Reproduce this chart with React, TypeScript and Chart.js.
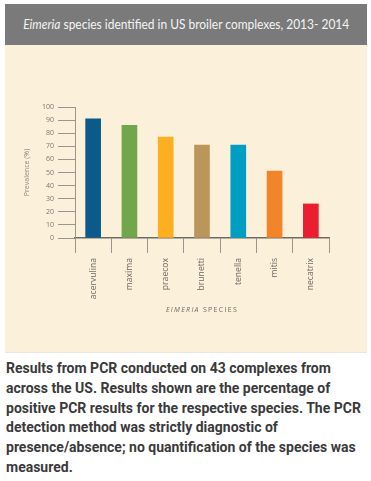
import React, { useEffect, useRef } from "react";
import { Chart, registerables } from "chart.js";

Chart.register(...registerables);

const species = ["acervulina", "maxima", "praecox", "brunetti", "tenella", "mitis", "necatrix"];
const prevalence = [91, 86, 77, 71, 71, 51, 26];
const barColors = ["#0b5a8a", "#71a64d", "#fcb021", "#b9975a", "#019ec3", "#f4842a", "#e91e2e"];
const yTicks = [0, 10, 20, 30, 40, 50, 60, 70, 80, 90, 100];

const titleItalic = "Eimeria";
const titleRest = " species identified in US broiler complexes, 2013- 2014";
const yTitle = "Prevalence (%)";
const xTitleItalic = "EIMERIA";
const xTitleRest = " SPECIES";
const captionLines = [
  "Results from PCR conducted on 43 complexes from",
  "across the US. Results shown are the percentage of",
  "positive PCR results for the respective species. The PCR",
  "detection method was strictly diagnostic of",
  "presence/absence; no quantification of the species was",
  "measured.",
];

const CW = 362;
const CH = 307;

const xTitlePlugin = {
  id: "xTitlePlugin",
  afterDraw(chart: any) {
    const { ctx, chartArea } = chart;
    ctx.save();
    ctx.fillStyle = "#6d6a66";
    ctx.textBaseline = "middle";
    (ctx as any).letterSpacing = "1.3px";
    ctx.font = "italic 7px 'Open Sans'";
    const w1 = ctx.measureText(xTitleItalic).width;
    ctx.font = "7px 'Open Sans'";
    const w2 = ctx.measureText(xTitleRest).width;
    const cx = (chartArea.left + chartArea.right) / 2;
    let x = cx - (w1 + w2) / 2;
    const y = 265;
    ctx.textAlign = "left";
    ctx.font = "italic 7px 'Open Sans'";
    ctx.fillText(xTitleItalic, x, y);
    ctx.font = "7px 'Open Sans'";
    ctx.fillText(xTitleRest, x + w1, y);
    ctx.restore();
  },
};

function BarChart() {
  const ref = useRef<HTMLCanvasElement>(null);
  useEffect(() => {
    if (!ref.current) return;
    const chart = new Chart(ref.current, {
      type: "bar",
      data: {
        labels: species,
        datasets: [
          {
            data: prevalence,
            backgroundColor: barColors,
            borderWidth: 0,
            barThickness: 15,
          },
        ],
      },
      options: {
        responsive: false,
        maintainAspectRatio: false,
        animation: false,
        layout: { padding: { left: 0, top: 62, right: 38, bottom: 0 } },
        plugins: { legend: { display: false }, tooltip: { enabled: false } },
        scales: {
          x: {
            grid: {
              offset: true,
              drawOnChartArea: false,
              tickLength: 15,
              color: "#9a968f",
              lineWidth: 1,
            },
            border: { color: "#6f6b64", width: 1.5 },
            ticks: {
              minRotation: 90,
              maxRotation: 90,
              padding: 5,
              color: "#6a6662",
              font: { family: "'Open Sans'", size: 8.6 },
            },
            afterFit: (s: any) => {
              s.height = 114;
            },
          },
          y: {
            min: 0,
            max: 100,
            afterBuildTicks: (s: any) => {
              s.ticks = yTicks.map((v) => ({ value: v }));
            },
            ticks: {
              padding: 4,
              color: "#7a7672",
              font: { family: "'Open Sans'", size: 7 },
            },
            grid: {
              drawOnChartArea: false,
              tickLength: 17,
              color: "#9a968f",
            },
            border: { color: "#9a968f", width: 1 },
            title: {
              display: true,
              text: yTitle,
              color: "#8a8682",
              font: { family: "'Open Sans'", size: 7 },
              padding: { top: 18, bottom: 0 },
            },
            afterFit: (s: any) => {
              s.width = 70;
            },
          },
        },
      },
      plugins: [xTitlePlugin],
    });
    return () => chart.destroy();
  }, []);
  return <canvas ref={ref} width={CW} height={CH} style={{ display: "block", width: CW, height: CH }} />;
}

export default function App() {
  return (
    <div style={{ position: "absolute", left: 0, top: 0, width: 371, height: 481, background: "#ffffff" }}>
      <div
        style={{
          position: "absolute",
          left: 5,
          top: 4,
          width: 362,
          height: 41,
          background: "#7a7a7a",
          color: "#f4f4f4",
          fontFamily: "Lato, 'Open Sans', sans-serif",
          fontSize: 13,
          lineHeight: "41px",
          textAlign: "center",
          whiteSpace: "nowrap",
        }}
      >
        <span style={{ display: "inline-block", transform: "scaleX(0.92)", transformOrigin: "50% 50%" }}>
          <i>{titleItalic}</i>
          {titleRest}
        </span>
      </div>
      <div
        style={{
          position: "absolute",
          left: 5,
          top: 45,
          width: CW,
          height: CH,
          background: "#fbf0da",
          borderBottom: "1px solid #ebe6de",
        }}
      >
        <BarChart />
      </div>
      <div
        style={{
          position: "absolute",
          left: 6,
          top: 359,
          width: 365,
          fontFamily: "Roboto, sans-serif",
          fontWeight: 700,
          fontSize: 14,
          lineHeight: "19.8px",
          color: "#3a3a3a",
          whiteSpace: "nowrap",
        }}
      >
        {captionLines.map((l, i) => (
          <div key={i}>{l}</div>
        ))}
      </div>
    </div>
  );
}
